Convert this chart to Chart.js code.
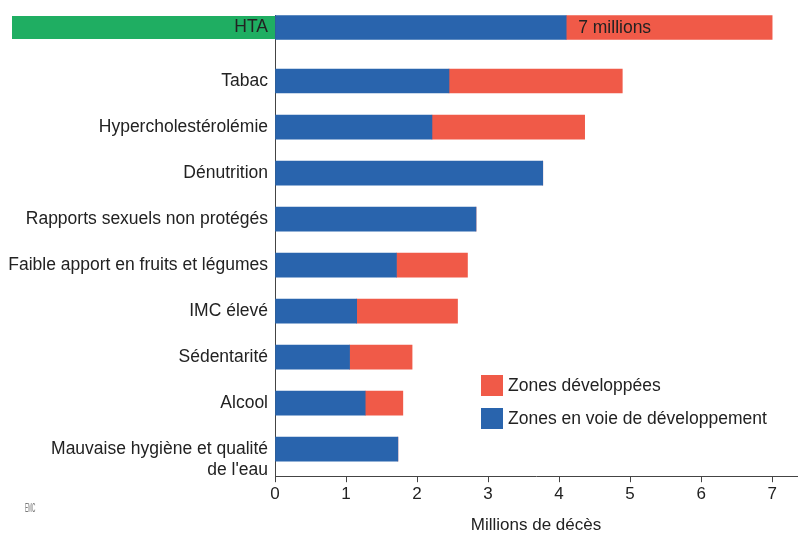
<!DOCTYPE html>
<html>
<head>
  <title>Facteurs de risque - Millions de décès</title>
  <script src="https://cdn.jsdelivr.net/npm/chart.js"></script>
  <style>
    html, body { margin: 0; padding: 0; background: #fff; }
    #wrap { width: 798px; height: 533px; }
  </style>
</head>
<body>
<div id="wrap"><canvas id="riskChart"></canvas></div>

<script>
  // Categories (top to bottom)
  const categories = [
    'HTA',
    'Tabac',
    'Hypercholestérolémie',
    'Dénutrition',
    'Rapports sexuels non protégés',
    'Faible apport en fruits et légumes',
    'IMC élevé',
    'Sédentarité',
    'Alcool',
    ['', 'Mauvaise hygiène et qualité', "de l'eau"]
  ];
  // Millions de décès
  const enDeveloppement = [4.1, 2.45, 2.21, 3.77, 2.83, 1.71, 1.15, 1.05, 1.27, 1.73];
  const developpees = [2.9, 2.44, 2.15, 0, 0, 1.0, 1.42, 0.88, 0.53, 0];
  const xTicks = [0, 1, 2, 3, 4, 5, 6, 7];
  const totalLabel = '7 millions';

  // HTA row sits a bit further from the others
  const HTA_GAP = 1.163;
  const rowPos = categories.map((c, i) => i === 0 ? 1 - HTA_GAP : i);

  const BLUE = '#2964ad';
  const RED = '#f05a48';
  const GREEN = '#1fae62';
  const FONT = 'Liberation Sans, Arial, Helvetica, sans-serif';

  const toPoints = arr => arr.map((v, i) => ({ x: v, y: rowPos[i] }));

  const extras = {
    id: 'extras',
    beforeDraw(chart) {
      // green band behind the HTA label
      const ctx = chart.ctx;
      const y = chart.scales.y.getPixelForValue(rowPos[0]);
      ctx.save();
      ctx.fillStyle = GREEN;
      ctx.fillRect(12, y - 11.5, chart.chartArea.left - 12, 23);
      ctx.restore();
    },
    afterDatasetsDraw(chart) {
      const ctx = chart.ctx;
      const bar = chart.getDatasetMeta(1).data[0];
      ctx.save();
      ctx.fillStyle = '#222';
      ctx.font = '17.5px ' + FONT;
      ctx.textBaseline = 'middle';
      ctx.fillText(totalLabel, bar.base + 12, bar.y + 1);

      // legend
      const lx = 481;
      const items = [[RED, chart.data.datasets[1].label, 375], [BLUE, chart.data.datasets[0].label, 408]];
      items.forEach(([col, txt, top]) => {
        ctx.fillStyle = col;
        ctx.fillRect(lx, top, 22, 21);
        ctx.fillStyle = '#222';
        ctx.fillText(txt, lx + 27, top + 11);
      });

      // EMC mark
      ctx.fillStyle = '#777';
      ctx.font = '13px ' + FONT;
      ctx.textBaseline = 'alphabetic';
      ctx.translate(25, 512);
      ctx.scale(0.36, 1);
      ctx.fillText('EMC', 0, 0);
      ctx.restore();
    }
  };

  const riskChart = new Chart(document.getElementById('riskChart'), {
    type: 'bar',
    data: {
      datasets: [{
        label: 'Zones en voie de développement',
        data: toPoints(enDeveloppement),
        backgroundColor: BLUE,
        barThickness: 24
      }, {
        label: 'Zones développées',
        data: toPoints(developpees),
        backgroundColor: RED,
        barThickness: 24
      }]
    },
    options: {
      indexAxis: 'y',
      responsive: true,
      maintainAspectRatio: false,
      animation: false,
      layout: { padding: { top: 15, right: 1, left: 0, bottom: 0 } },
      plugins: {
        legend: { display: false },
        tooltip: { enabled: false }
      },
      scales: {
        x: {
          type: 'linear',
          stacked: true,
          min: 0,
          max: 7.35,
          afterBuildTicks: s => { s.ticks = xTicks.map(v => ({ value: v })); },
          ticks: {
            color: '#222',
            font: { family: FONT, size: 17 },
            padding: 2,
            includeBounds: false
          },
          grid: { drawOnChartArea: false, drawTicks: true, tickLength: 6, color: '#444' },
          border: { display: true, color: '#444', width: 1 },
          title: {
            display: true,
            text: 'Millions de décès',
            color: '#222',
            font: { family: FONT, size: 17 },
            padding: { top: 9, bottom: -3 }
          }
        },
        y: {
          type: 'linear',
          stacked: true,
          reverse: true,
          offset: false,
          min: 1 - (81 - 15) / 46,
          max: 1 + (476 - 81) / 46,
          afterBuildTicks: s => { s.ticks = rowPos.map(v => ({ value: v })); },
          afterFit: s => { s.width = 275; s.paddingTop = 0; s.paddingBottom = 0; },
          ticks: {
            autoSkip: false,
            color: '#222',
            font: { family: FONT, size: 17.5 },
            padding: 7,
            callback: (value, index) => categories[index]
          },
          grid: { display: false, tickLength: 0 },
          border: { display: true, color: '#444', width: 1 }
        }
      }
    },
    plugins: [extras]
  });
</script>

</body>
</html>
